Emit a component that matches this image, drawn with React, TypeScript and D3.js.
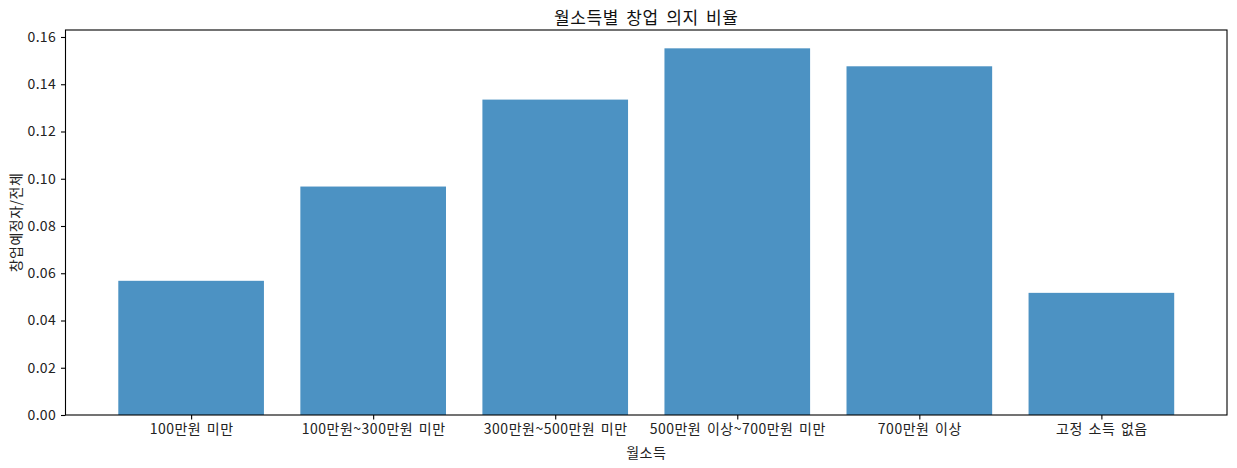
import React, { useEffect, useRef } from "react";
import * as d3 from "d3";

const categories = [
  "100만원 미만",
  "100만원~300만원 미만",
  "300만원~500만원 미만",
  "500만원 이상~700만원 미만",
  "700만원 이상",
  "고정 소득 없음",
];
const ratios = [0.0568, 0.0967, 0.1335, 0.1552, 0.1476, 0.0517];
const yTicks = [0, 0.02, 0.04, 0.06, 0.08, 0.1, 0.12, 0.14, 0.16];

const FONT = "'Noto Sans CJK KR', 'Noto Sans', sans-serif";

const App = () => {
  const svgRef = useRef(null);

  useEffect(() => {
    const root = d3.select(svgRef.current);
    root.selectAll("*").remove();

    const W = 1237;
    const H = 468;
    const margin = { top: 30, right: 10, bottom: 53, left: 65.5 };
    const width = W - margin.left - margin.right;
    const height = H - margin.top - margin.bottom;

    const svg = root
      .attr("width", W)
      .attr("height", H)
      .style("font-family", FONT)
      .append("g")
      .attr("transform", `translate(${margin.left},${margin.top})`);

    // matplotlib-style bar positions: bars at 0..n-1, width 0.8, 5% margins
    const n = categories.length;
    const lo = -0.4;
    const hi = n - 1 + 0.4;
    const pad = (hi - lo) * 0.05;
    const x = d3.scaleLinear().domain([lo - pad, hi + pad]).range([0, width]);

    const yMax = 0.1552 * 1.05;
    const y = d3.scaleLinear().domain([0, yMax]).range([height, 0]);

    // bars
    svg
      .selectAll("rect.bar")
      .data(ratios)
      .join("rect")
      .attr("class", "bar")
      .attr("x", (d, i) => x(i - 0.4))
      .attr("width", (d, i) => x(i + 0.4) - x(i - 0.4))
      .attr("y", (d) => y(d))
      .attr("height", (d) => y(0) - y(d))
      .attr("fill", "#1f77b4")
      .attr("fill-opacity", 0.8);

    // axes
    const xAxis = d3
      .axisBottom(x)
      .tickValues(d3.range(n))
      .tickFormat((d) => categories[d])
      .tickSize(4.5)
      .tickPadding(5);

    svg
      .append("g")
      .attr("transform", `translate(0,${height})`)
      .call(xAxis)
      .call((g) => g.select(".domain").remove())
      .call((g) => g.selectAll(".tick line").attr("stroke", "#000").attr("stroke-width", 1.1))
      .call((g) =>
        g
          .selectAll(".tick text")
          .attr("fill", "#222")
          .style("font-size", "14px")
          .style("letter-spacing", "0.5px")
          .style("word-spacing", "2px")
          .style("font-family", FONT),
      );

    const yAxis = d3
      .axisLeft(y)
      .tickValues(yTicks)
      .tickFormat(d3.format(".2f"))
      .tickSize(4.5)
      .tickPadding(5);

    svg
      .append("g")
      .call(yAxis)
      .call((g) => g.select(".domain").remove())
      .call((g) => g.selectAll(".tick line").attr("stroke", "#000").attr("stroke-width", 1.1))
      .call((g) =>
        g
          .selectAll(".tick text")
          .attr("fill", "#222")
          .style("font-size", "14px")
          .style("letter-spacing", "0.3px")
          .style("font-family", FONT),
      );

    // frame
    svg
      .append("rect")
      .attr("width", width)
      .attr("height", height)
      .attr("fill", "none")
      .attr("stroke", "#000")
      .attr("stroke-width", 1.1);

    // labels
    svg
      .append("text")
      .attr("x", width / 2)
      .attr("y", -6)
      .attr("text-anchor", "middle")
      .style("font-size", "17px")
      .style("letter-spacing", "0.6px")
      .style("word-spacing", "3px")
      .attr("fill", "#111")
      .text("월소득별 창업 의지 비율");

    svg
      .append("text")
      .attr("x", width / 2)
      .attr("y", height + 43)
      .attr("text-anchor", "middle")
      .style("font-size", "14px")
      .style("letter-spacing", "0.5px")
      .attr("fill", "#222")
      .text("월소득");

    svg
      .append("text")
      .attr("transform", "rotate(-90)")
      .attr("x", -height / 2)
      .attr("y", -45)
      .attr("text-anchor", "middle")
      .style("font-size", "14px")
      .style("letter-spacing", "0.5px")
      .attr("fill", "#222")
      .text("창업예정자/전체");
  }, []);

  return (
    <div style={{ position: "absolute", left: 0, top: 0, background: "#fff" }}>
      <svg ref={svgRef} style={{ display: "block" }} />
    </div>
  );
};

export default App;
